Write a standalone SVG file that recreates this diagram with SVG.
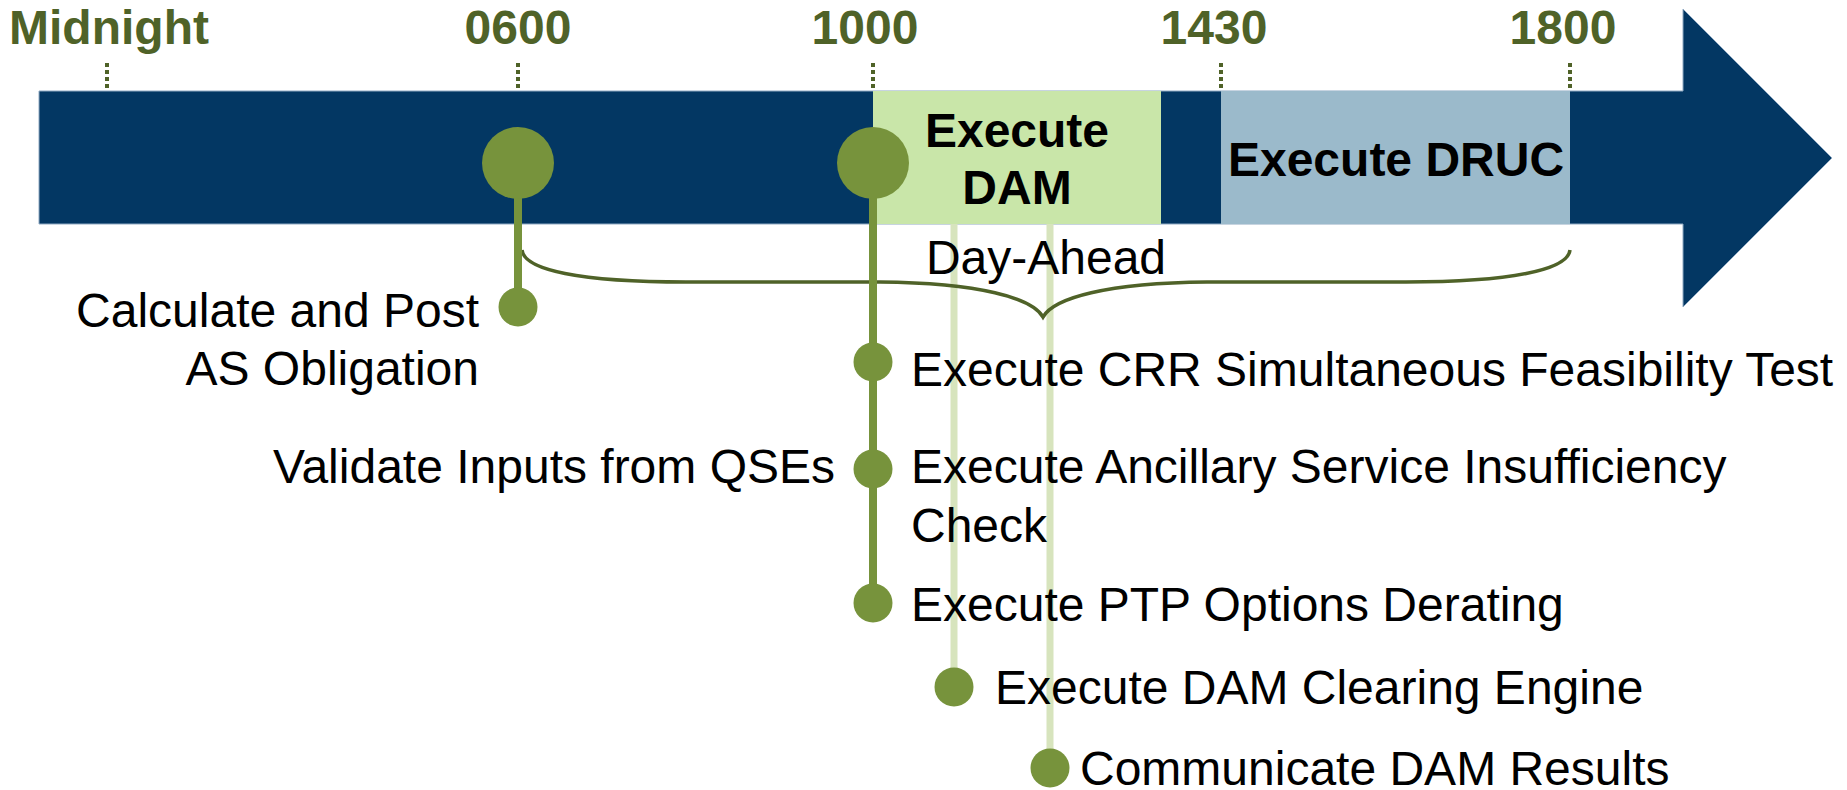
<svg xmlns="http://www.w3.org/2000/svg" width="1847" height="790" viewBox="0 0 1847 790">
  <style>
    text { font-family: "Liberation Sans", Arial, sans-serif; }
    .time { font-size: 48px; font-weight: bold; fill: #4F6228; text-anchor: middle; }
    .phase { font-size: 48px; font-weight: bold; fill: #000; text-anchor: middle; }
    .step { font-size: 48px; fill: #000; }
    .tick { stroke: #4F6228; stroke-width: 4; stroke-dasharray: 4 3; fill: none; }
    .stem { stroke: #77933C; stroke-width: 8; fill: none; }
    .stem-light { stroke: #D7E4BD; stroke-width: 7; fill: none; }
    .dot { fill: #77933C; }
    .brace { stroke: #4F6228; stroke-width: 3.5; fill: none; }
  </style>

  <!-- timeline arrow -->
  <g id="timeline">
    <polygon points="39,91 1683,91 1683,9 1832,158 1683,307 1683,224 39,224" fill="#033763" stroke="#8FA9C2" stroke-width="1"/>
  </g>

  <!-- phase boxes -->
  <g id="phase-dam">
    <rect x="873" y="91" width="288" height="133" fill="#C9E6A9"/>
    <text class="phase" x="1017" y="147">Execute</text>
    <text class="phase" x="1017" y="204">DAM</text>
  </g>
  <g id="phase-druc">
    <rect x="1221" y="91" width="349" height="133" fill="#9BBACB"/>
    <text class="phase" x="1396" y="176">Execute DRUC</text>
  </g>

  <!-- time labels and dotted ticks -->
  <g id="time-midnight">
    <text class="time" x="109" y="44">Midnight</text>
    <line class="tick" x1="107" y1="63" x2="107" y2="91"/>
  </g>
  <g id="time-0600">
    <text class="time" x="518" y="44">0600</text>
    <line class="tick" x1="518" y1="63" x2="518" y2="91"/>
  </g>
  <g id="time-1000">
    <text class="time" x="865" y="44">1000</text>
    <line class="tick" x1="873" y1="63" x2="873" y2="91"/>
  </g>
  <g id="time-1430">
    <text class="time" x="1214" y="44">1430</text>
    <line class="tick" x1="1221" y1="63" x2="1221" y2="91"/>
  </g>
  <g id="time-1800">
    <text class="time" x="1563" y="44">1800</text>
    <line class="tick" x1="1570" y1="63" x2="1570" y2="91"/>
  </g>

  <!-- connectors: stems and the day-ahead brace -->
  <g id="connectors">
    <line class="stem-light" x1="954" y1="224" x2="954" y2="687"/>
    <line class="stem-light" x1="1050" y1="224" x2="1050" y2="768"/>
    <path class="brace" d="M522,250 C524,270 580,282 686,282 L880,282 C980,283 1032,298 1043,317 C1054,298 1106,283 1207,282 L1406,282 C1510,282 1568,270 1570,250"/>
    <line class="stem" x1="518" y1="163" x2="518" y2="307"/>
    <line class="stem" x1="873" y1="163" x2="873" y2="603"/>
  </g>

  <!-- day-ahead label -->
  <g id="label-day-ahead">
    <text class="step" x="1046" y="274" text-anchor="middle">Day-Ahead</text>
  </g>

  <!-- milestones on the bar -->
  <g id="milestone-0600">
    <circle class="dot" cx="518" cy="163" r="36"/>
  </g>
  <g id="milestone-1000">
    <circle class="dot" cx="873" cy="163" r="36"/>
  </g>

  <!-- steps -->
  <g id="step-as-obligation">
    <circle class="dot" cx="518" cy="307" r="19.5"/>
    <text class="step" x="479" y="327" text-anchor="end">Calculate and Post</text>
    <text class="step" x="479" y="385" text-anchor="end">AS Obligation</text>
  </g>
  <g id="step-crr-sft">
    <circle class="dot" cx="873" cy="362" r="19.5"/>
    <text class="step" x="911" y="386">Execute CRR Simultaneous Feasibility Test</text>
  </g>
  <g id="step-validate-ancillary">
    <circle class="dot" cx="873" cy="469" r="19.5"/>
    <text class="step" x="835" y="483" text-anchor="end">Validate Inputs from QSEs</text>
    <text class="step" x="911" y="483">Execute Ancillary Service Insufficiency</text>
    <text class="step" x="911" y="542">Check</text>
  </g>
  <g id="step-ptp-derating">
    <circle class="dot" cx="873" cy="603" r="19.5"/>
    <text class="step" x="911" y="621">Execute PTP Options Derating</text>
  </g>
  <g id="step-dam-clearing">
    <circle class="dot" cx="954" cy="687" r="19.5"/>
    <text class="step" x="995" y="704">Execute DAM Clearing Engine</text>
  </g>
  <g id="step-dam-results">
    <circle class="dot" cx="1050" cy="768" r="19.5"/>
    <text class="step" x="1080" y="785">Communicate DAM Results</text>
  </g>
</svg>
